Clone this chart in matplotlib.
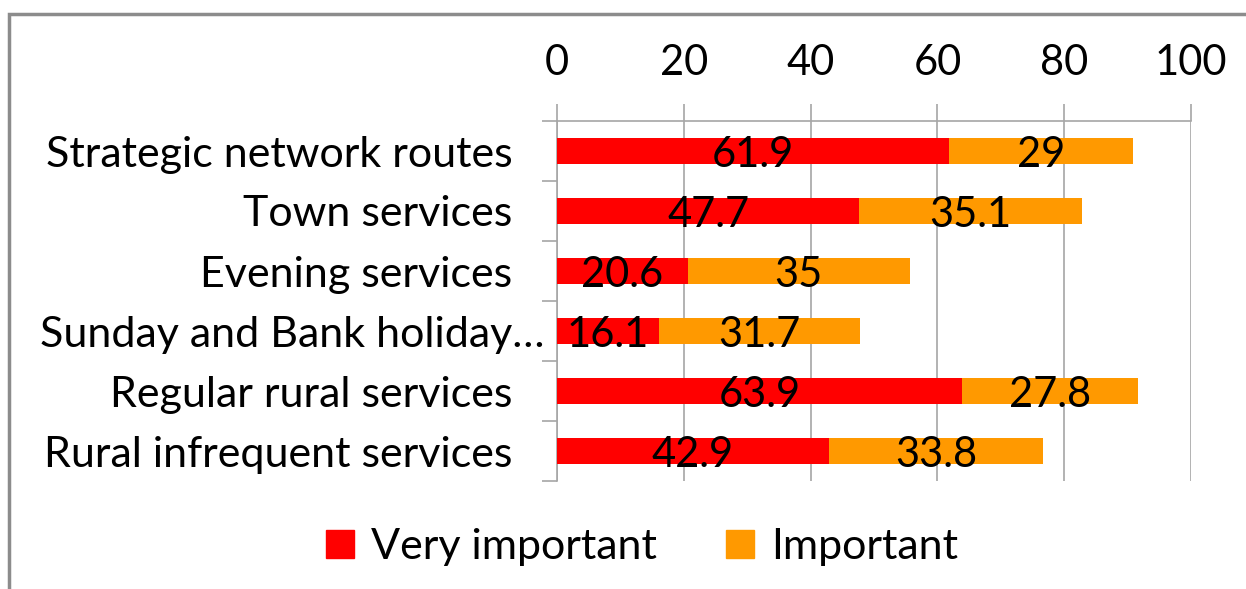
import matplotlib.pyplot as plt
import matplotlib.transforms as mtransforms
from matplotlib.patches import Rectangle, Patch

categories = ["Strategic network routes", "Town services", "Evening services",
              "Sunday and Bank holiday\u2026", "Regular rural services",
              "Rural infrequent services"]
very_important = [61.9, 47.7, 20.6, 16.1, 63.9, 42.9]
important = [29, 35.1, 35, 31.7, 27.8, 33.8]
series_names = ["Very important", "Important"]
xticks = [0, 20, 40, 60, 80, 100]

plt.rcParams['font.family'] = ['Lato', 'DejaVu Sans']
fs = 31
fs_num = 30
grid_col = '#A6A6A6'
red = '#FF0000'
orange = '#FF9900'

fig = plt.figure(figsize=(12.46, 5.89), dpi=100)
ax = fig.add_axes([557/1246, 1-481/589, (1191-557)/1246, 360/589])

y = list(range(len(categories)))
ax.barh(y, very_important, height=0.42, color=red, zorder=3)
ax.barh(y, important, left=very_important, height=0.42, color=orange, zorder=3)

# value labels centred on each segment
for i in y:
    v, m = very_important[i], important[i]
    ax.text(v / 2, i + 0.06, f"{v:g}", ha='center', va='center', fontsize=fs_num, zorder=4)
    ax.text(v + m / 2, i + 0.06, f"{m:g}", ha='center', va='center', fontsize=fs_num, zorder=4)

ax.set_xlim(0, 100)
ax.set_ylim(len(categories) - 0.5, -0.5)
ax.xaxis.tick_top()
ax.set_xticks(xticks)
ax.set_xticklabels([str(t) for t in xticks], fontsize=fs_num)
ax.tick_params(axis='x', length=12, width=1.2, color=grid_col, pad=16)
ax.grid(axis='x', color=grid_col, linewidth=1.2, zorder=0)

# category labels, ticks sit on the boundaries between categories
ax.set_yticks(y)
ax.set_yticklabels(categories, fontsize=fs)
ax.set_yticks([i - 0.5 for i in range(len(categories) + 1)], minor=True)
ax.tick_params(axis='y', which='major', length=0, pad=32)
ax.tick_params(axis='y', which='minor', length=11, width=1.2, color=grid_col)

# the truncated label runs past the others in the original
lbl = ax.get_yticklabels()[3]
lbl.set_transform(lbl.get_transform() + mtransforms.ScaledTranslation(0.32, 0, fig.dpi_scale_trans))

for s in ['right', 'bottom']:
    ax.spines[s].set_visible(False)
for s in ['left', 'top']:
    ax.spines[s].set_color(grid_col)
    ax.spines[s].set_linewidth(1.2)

handles = [Patch(color=red), Patch(color=orange)]
fig.legend(handles, series_names, loc='center', bbox_to_anchor=(0.515, 0.071), ncol=2,
           frameon=False, fontsize=fs, handlelength=0.65, handleheight=0.65,
           handletextpad=0.4, columnspacing=1.6)

# outer chart border
fig.patches.append(Rectangle((9/1246, -0.1), 1.2, 1 - 14/589 + 0.1, transform=fig.transFigure,
                             fill=False, edgecolor='#8C8C8C', linewidth=2.5))

fig.savefig('out.png', dpi=100)
